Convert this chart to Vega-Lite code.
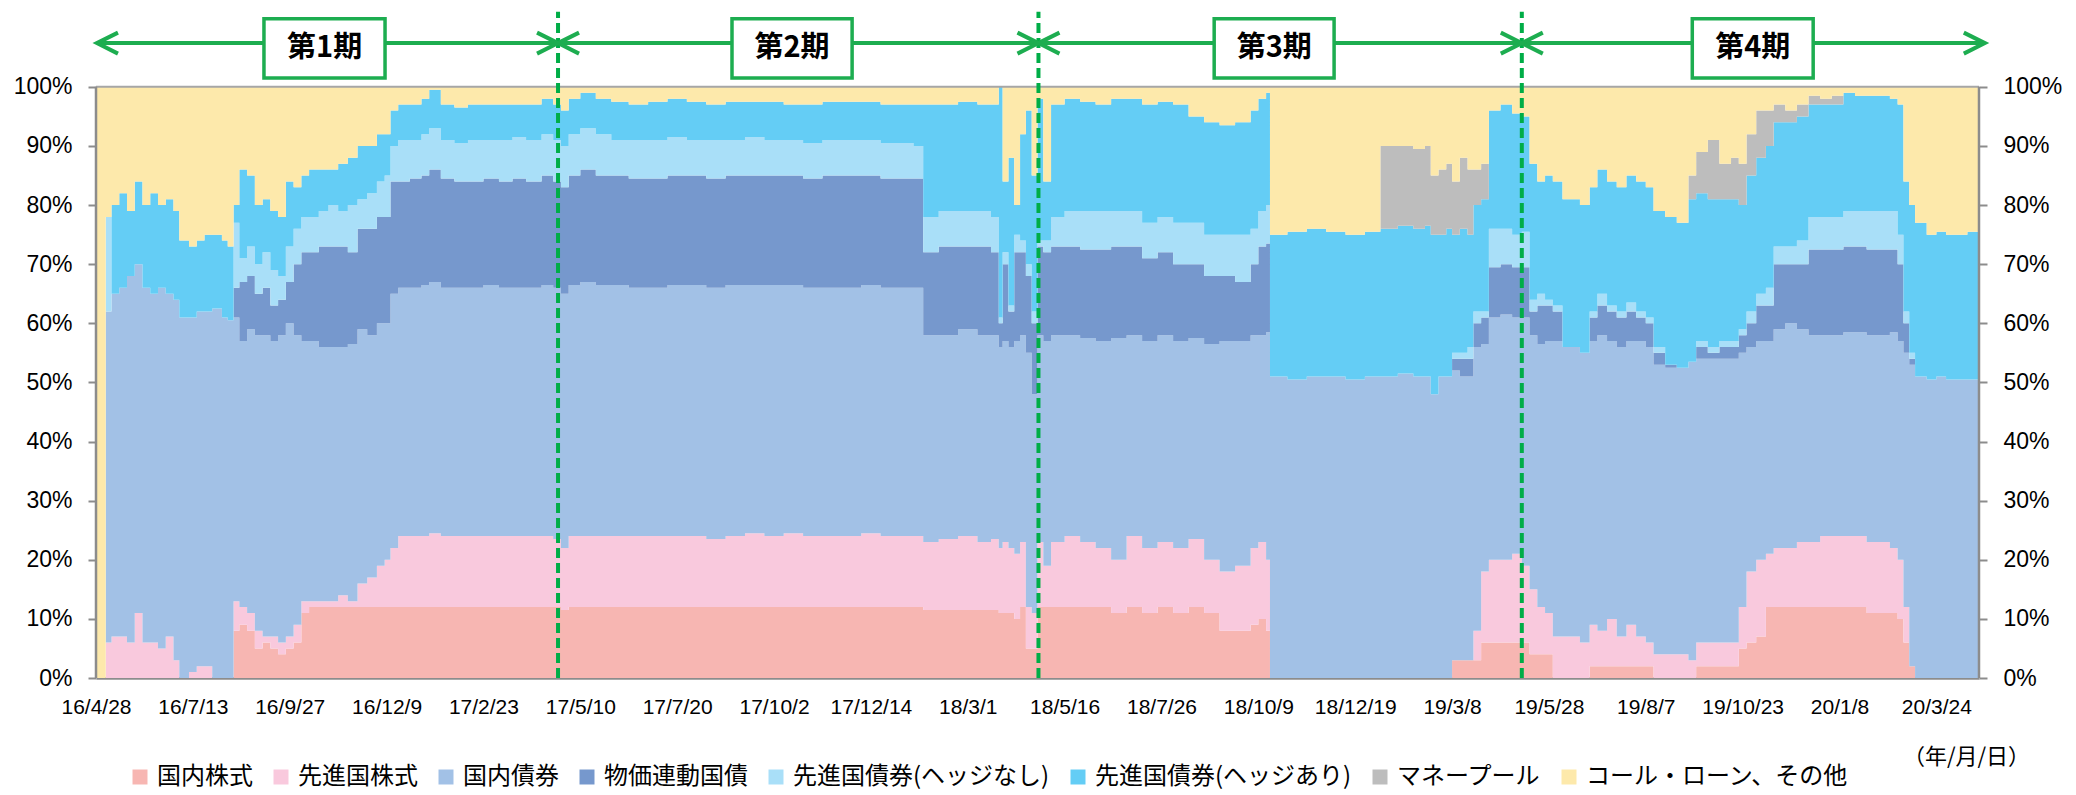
{
"$schema": "https://vega.github.io/schema/vega-lite/v6.json",
"width": 1883, "height": 668,
"autosize": "none",
"padding": {"left": 96, "top": 10, "right": 97, "bottom": 117},
"background": "white",
"config": {"view": {"stroke": null}},
"datasets": {
"names": [
{"k":"a","name":"国内株式","o":1},
{"k":"b","name":"先進国株式","o":2},
{"k":"c","name":"国内債券","o":3},
{"k":"e","name":"物価連動国債","o":4},
{"k":"f","name":"先進国債券(ヘッジなし)","o":5},
{"k":"g","name":"先進国債券(ヘッジあり)","o":6},
{"k":"m","name":"マネープール","o":7},
{"k":"y","name":"コール・ローン、その他","o":8}
],
"periods": [
{"p":"第1期","l":0.5,"r":238.5,"bl":86.7,"br":149.2,"bc":118},
{"p":"第2期","l":238.5,"r":486.5,"bl":328.3,"br":390.3,"bc":359.3},
{"p":"第3期","l":486.5,"r":736,"bl":577.2,"br":639.1,"bc":608.2},
{"p":"第4期","l":736,"r":975,"bl":824,"br":886.4,"bc":855.2}
],
"bounds": [{"b":238.5},{"b":486.5},{"b":736}],
"edges": [{"x":0},{"x":972}],
"alloc": [
{"d":0,"a":0,"b":0,"c":0,"e":0,"f":0,"g":0,"m":0,"y":100},
{"d":5,"a":0,"b":6,"c":56,"e":0,"f":16,"g":0,"m":0,"y":22},
{"d":8,"a":0,"b":7,"c":58,"e":0,"f":0,"g":15,"m":0,"y":20},
{"d":12,"a":0,"b":7,"c":59,"e":0,"f":0,"g":16,"m":0,"y":18},
{"d":16,"a":0,"b":6,"c":62,"e":0,"f":0,"g":11,"m":0,"y":21},
{"d":20,"a":0,"b":11,"c":59,"e":0,"f":0,"g":14,"m":0,"y":16},
{"d":24,"a":0,"b":6,"c":60,"e":0,"f":0,"g":14,"m":0,"y":20},
{"d":28,"a":0,"b":6,"c":59,"e":0,"f":0,"g":17,"m":0,"y":18},
{"d":32,"a":0,"b":5,"c":61,"e":0,"f":0,"g":14,"m":0,"y":20},
{"d":36,"a":0,"b":7,"c":58,"e":0,"f":0,"g":16,"m":0,"y":19},
{"d":40,"a":0,"b":3,"c":61,"e":0,"f":0,"g":15,"m":0,"y":21},
{"d":43,"a":0,"b":0,"c":61,"e":0,"f":0,"g":13,"m":0,"y":26},
{"d":48,"a":0,"b":1,"c":60,"e":0,"f":0,"g":12,"m":0,"y":27},
{"d":52,"a":0,"b":2,"c":60,"e":0,"f":0,"g":12,"m":0,"y":26},
{"d":56,"a":0,"b":2,"c":60,"e":0,"f":0,"g":13,"m":0,"y":25},
{"d":60,"a":0,"b":0,"c":62.5,"e":0,"f":0,"g":12.5,"m":0,"y":25},
{"d":65,"a":0,"b":0,"c":61,"e":0,"f":0,"g":13,"m":0,"y":26},
{"d":68,"a":0,"b":0,"c":60.5,"e":0,"f":0,"g":12.5,"m":0,"y":27},
{"d":71,"a":8,"b":5,"c":48,"e":5,"f":11,"g":3,"m":0,"y":20},
{"d":74,"a":9,"b":3,"c":45,"e":10,"f":4,"g":15,"m":0,"y":14},
{"d":78,"a":8,"b":3,"c":48,"e":9,"f":5,"g":12,"m":0,"y":15},
{"d":82,"a":5,"b":3,"c":50,"e":7,"f":5,"g":10,"m":0,"y":20},
{"d":86,"a":6,"b":1,"c":51,"e":8,"f":6,"g":9,"m":0,"y":19},
{"d":90,"a":5,"b":2,"c":50,"e":6,"f":6,"g":10,"m":0,"y":21},
{"d":94,"a":4,"b":2,"c":52,"e":6,"f":4,"g":10,"m":0,"y":22},
{"d":98,"a":5,"b":2,"c":53,"e":7,"f":6,"g":11,"m":0,"y":16},
{"d":102,"a":6,"b":3,"c":49,"e":12,"f":6,"g":7,"m":0,"y":17},
{"d":106,"a":11,"b":2,"c":44,"e":15,"f":6,"g":7,"m":0,"y":15},
{"d":110,"a":12,"b":1,"c":44,"e":15,"f":6,"g":8,"m":0,"y":14},
{"d":115,"a":12,"b":1,"c":43,"e":17,"f":6,"g":7,"m":0,"y":14},
{"d":120,"a":12,"b":1,"c":43,"e":17,"f":7,"g":6,"m":0,"y":14},
{"d":125,"a":12,"b":2,"c":42,"e":17,"f":6,"g":8,"m":0,"y":13},
{"d":130,"a":12,"b":1,"c":43.5,"e":15.5,"f":8,"g":8,"m":0,"y":12},
{"d":135,"a":12,"b":4,"c":43,"e":17,"f":5,"g":9,"m":0,"y":10},
{"d":140,"a":12,"b":5,"c":41,"e":18,"f":6,"g":8,"m":0,"y":10},
{"d":145,"a":12,"b":7,"c":41,"e":18,"f":6,"g":8,"m":0,"y":8},
{"d":149,"a":12,"b":8,"c":40,"e":18,"f":7,"g":7,"m":0,"y":8},
{"d":152,"a":12,"b":10,"c":43,"e":19,"f":6,"g":6,"m":0,"y":4},
{"d":156,"a":12,"b":12,"c":42,"e":18,"f":7,"g":6,"m":0,"y":3},
{"d":162,"a":12,"b":12,"c":42,"e":18.5,"f":6.5,"g":6,"m":0,"y":3},
{"d":168,"a":12,"b":12,"c":42.5,"e":18.5,"f":7,"g":6,"m":0,"y":2},
{"d":172,"a":12,"b":12.5,"c":42.5,"e":19,"f":7,"g":6.5,"m":0,"y":0.5},
{"d":178,"a":12,"b":12,"c":42,"e":18.5,"f":6.5,"g":6,"m":0,"y":3},
{"d":185,"a":12,"b":12,"c":42,"e":18,"f":6.5,"g":6,"m":0,"y":3.5},
{"d":192,"a":12,"b":12,"c":42,"e":18,"f":7,"g":6,"m":0,"y":3},
{"d":200,"a":12,"b":12,"c":42.5,"e":18,"f":6.5,"g":6,"m":0,"y":3},
{"d":208,"a":12,"b":12,"c":42,"e":18,"f":7,"g":6,"m":0,"y":3},
{"d":215,"a":12,"b":12,"c":42,"e":18.5,"f":7,"g":5.5,"m":0,"y":3},
{"d":222,"a":12,"b":12,"c":42,"e":18,"f":7,"g":6,"m":0,"y":3},
{"d":230,"a":12,"b":12,"c":42.5,"e":18.5,"f":7,"g":6,"m":0,"y":2},
{"d":236,"a":12,"b":11.5,"c":42.5,"e":18,"f":7,"g":6,"m":0,"y":3},
{"d":240,"a":11.5,"b":10.5,"c":43,"e":18,"f":7,"g":6,"m":0,"y":4},
{"d":244,"a":12,"b":12,"c":42.5,"e":18.5,"f":7,"g":6,"m":0,"y":2},
{"d":250,"a":12,"b":12,"c":43,"e":19,"f":7,"g":6,"m":0,"y":1},
{"d":258,"a":12,"b":12,"c":42.5,"e":18.5,"f":7,"g":6,"m":0,"y":2},
{"d":266,"a":12,"b":12,"c":42.5,"e":18.5,"f":6,"g":6.5,"m":0,"y":2.5},
{"d":275,"a":12,"b":12,"c":42,"e":18.5,"f":6.5,"g":6,"m":0,"y":3},
{"d":285,"a":12,"b":12,"c":42,"e":18.5,"f":6.5,"g":6.5,"m":0,"y":2.5},
{"d":295,"a":12,"b":12,"c":42.5,"e":18.5,"f":6.5,"g":6.5,"m":0,"y":2},
{"d":305,"a":12,"b":12,"c":42.5,"e":18.5,"f":6,"g":6.5,"m":0,"y":2.5},
{"d":315,"a":12,"b":11.5,"c":42.5,"e":18.5,"f":6.5,"g":6,"m":0,"y":3},
{"d":325,"a":12,"b":12,"c":42.5,"e":18.5,"f":6,"g":6.5,"m":0,"y":2.5},
{"d":335,"a":12,"b":12.5,"c":42,"e":18.5,"f":6.5,"g":6,"m":0,"y":2.5},
{"d":345,"a":12,"b":12,"c":42.5,"e":18.5,"f":6,"g":6.5,"m":0,"y":2.5},
{"d":355,"a":12,"b":12.5,"c":42,"e":18.5,"f":6,"g":6,"m":0,"y":3},
{"d":365,"a":12,"b":12,"c":42,"e":18.5,"f":6,"g":6.5,"m":0,"y":3},
{"d":375,"a":12,"b":12,"c":42,"e":19,"f":6,"g":6.5,"m":0,"y":2.5},
{"d":385,"a":12,"b":12,"c":42,"e":19,"f":6,"g":6.5,"m":0,"y":2.5},
{"d":395,"a":12,"b":12.5,"c":42,"e":18.5,"f":6,"g":6.5,"m":0,"y":2.5},
{"d":405,"a":12,"b":12,"c":42,"e":18.5,"f":6,"g":6.5,"m":0,"y":3},
{"d":415,"a":12,"b":12,"c":42,"e":18.5,"f":6,"g":6.5,"m":0,"y":3},
{"d":422,"a":12,"b":12,"c":42,"e":18.5,"f":5.5,"g":7,"m":0,"y":3},
{"d":427,"a":11.5,"b":11.5,"c":35,"e":14,"f":6,"g":19,"m":0,"y":3},
{"d":435,"a":11.5,"b":12,"c":34.5,"e":15,"f":6,"g":18,"m":0,"y":3},
{"d":445,"a":11.5,"b":12.5,"c":35,"e":14,"f":6,"g":18.5,"m":0,"y":2.5},
{"d":455,"a":11.5,"b":11.5,"c":35,"e":15,"f":6,"g":18,"m":0,"y":3},
{"d":462,"a":11.5,"b":12,"c":34.5,"e":14,"f":6,"g":19,"m":0,"y":3},
{"d":466,"a":11,"b":11,"c":34,"e":4,"f":1,"g":39,"m":0,"y":0},
{"d":468,"a":11,"b":12,"c":34,"e":13,"f":2,"g":12,"m":0,"y":16},
{"d":471,"a":11,"b":11,"c":34,"e":6,"f":1,"g":25,"m":0,"y":12},
{"d":474,"a":10,"b":11,"c":36,"e":15,"f":3,"g":5,"m":0,"y":20},
{"d":477,"a":12,"b":11,"c":35,"e":14,"f":2,"g":18,"m":0,"y":8},
{"d":480,"a":5,"b":7,"c":43,"e":13,"f":2,"g":26,"m":0,"y":4},
{"d":483,"a":5,"b":6,"c":37,"e":12,"f":2,"g":23,"m":0,"y":15},
{"d":486,"a":12,"b":11,"c":35,"e":15,"f":1,"g":24,"m":0,"y":2},
{"d":489,"a":12,"b":7,"c":38,"e":15,"f":2,"g":10,"m":0,"y":16},
{"d":493,"a":12,"b":11,"c":35,"e":15,"f":5,"g":19,"m":0,"y":3},
{"d":500,"a":12,"b":12,"c":34,"e":15,"f":6,"g":19,"m":0,"y":2},
{"d":508,"a":12,"b":11,"c":34.5,"e":15,"f":6.5,"g":18.5,"m":0,"y":2.5},
{"d":516,"a":12,"b":10,"c":35,"e":15.5,"f":6.5,"g":18,"m":0,"y":3},
{"d":524,"a":11,"b":9,"c":37.5,"e":15.5,"f":6,"g":19,"m":0,"y":2},
{"d":532,"a":12,"b":12,"c":34,"e":15,"f":6,"g":19,"m":0,"y":2},
{"d":540,"a":11,"b":11,"c":35,"e":14,"f":6,"g":20,"m":0,"y":3},
{"d":548,"a":12,"b":11,"c":35,"e":14,"f":6,"g":19.5,"m":0,"y":2.5},
{"d":556,"a":11,"b":11,"c":35,"e":13,"f":7,"g":20,"m":0,"y":3},
{"d":564,"a":12,"b":11.5,"c":34,"e":12.5,"f":7,"g":18,"m":0,"y":5},
{"d":572,"a":11,"b":9,"c":36.5,"e":11.5,"f":7,"g":19,"m":0,"y":6},
{"d":580,"a":8,"b":10,"c":39,"e":11,"f":7,"g":18.5,"m":0,"y":6.5},
{"d":588,"a":8,"b":11,"c":38,"e":10,"f":8,"g":19,"m":0,"y":6},
{"d":596,"a":9,"b":13,"c":36,"e":12,"f":6,"g":20,"m":0,"y":4},
{"d":600,"a":10,"b":13,"c":35,"e":15,"f":6,"g":19,"m":0,"y":2},
{"d":604,"a":8,"b":12,"c":38.5,"e":15,"f":6.5,"g":19,"m":0,"y":1},
{"d":606,"a":0,"b":0,"c":51,"e":0,"f":0,"g":24,"m":0,"y":25},
{"d":615,"a":0,"b":0,"c":50.5,"e":0,"f":0,"g":25,"m":0,"y":24.5},
{"d":625,"a":0,"b":0,"c":51,"e":0,"f":0,"g":25,"m":0,"y":24},
{"d":635,"a":0,"b":0,"c":51,"e":0,"f":0,"g":24.5,"m":0,"y":24.5},
{"d":645,"a":0,"b":0,"c":50.5,"e":0,"f":0,"g":24.5,"m":0,"y":25},
{"d":655,"a":0,"b":0,"c":51,"e":0,"f":0,"g":24.5,"m":0,"y":24.5},
{"d":663,"a":0,"b":0,"c":51,"e":0,"f":0,"g":25,"m":14,"y":10},
{"d":672,"a":0,"b":0,"c":51.5,"e":0,"f":0,"g":25,"m":13.5,"y":10},
{"d":680,"a":0,"b":0,"c":51,"e":0,"f":0,"g":25,"m":13.5,"y":10.5},
{"d":686,"a":0,"b":0,"c":51,"e":0,"f":0,"g":25.5,"m":13.5,"y":10},
{"d":689,"a":0,"b":0,"c":48,"e":0,"f":0,"g":27,"m":10,"y":15},
{"d":693,"a":0,"b":0,"c":51,"e":0,"f":0,"g":24,"m":11,"y":14},
{"d":697,"a":0,"b":0,"c":51,"e":0,"f":0,"g":25,"m":11,"y":13},
{"d":700,"a":3,"b":0,"c":49,"e":2,"f":1,"g":20,"m":9,"y":16},
{"d":704,"a":3,"b":0,"c":48,"e":3,"f":1,"g":21,"m":12,"y":12},
{"d":708,"a":3,"b":0,"c":48,"e":3,"f":2,"g":19,"m":11,"y":14},
{"d":711,"a":3,"b":5,"c":48,"e":4,"f":2,"g":18,"m":6,"y":14},
{"d":715,"a":6,"b":12,"c":38.5,"e":4.5,"f":1,"g":19,"m":6,"y":13},
{"d":719,"a":6,"b":14,"c":41,"e":8.5,"f":6.5,"g":20,"m":0,"y":4},
{"d":725,"a":6,"b":14,"c":41.5,"e":8.5,"f":6,"g":21,"m":0,"y":3},
{"d":731,"a":6,"b":15,"c":40,"e":8.5,"f":5.5,"g":20.5,"m":0,"y":4.5},
{"d":736,"a":6,"b":13,"c":42,"e":8.5,"f":6,"g":19.5,"m":0,"y":5},
{"d":740,"a":4,"b":11,"c":43,"e":4,"f":2,"g":23,"m":0,"y":13},
{"d":744,"a":4,"b":8,"c":44.5,"e":6.5,"f":2,"g":19,"m":0,"y":16},
{"d":748,"a":4,"b":7,"c":46,"e":6,"f":1,"g":21,"m":0,"y":15},
{"d":752,"a":0,"b":7,"c":50,"e":5,"f":1,"g":21,"m":0,"y":16},
{"d":757,"a":0,"b":7,"c":49,"e":0,"f":0,"g":25,"m":0,"y":19},
{"d":762,"a":0,"b":7,"c":49,"e":0,"f":0,"g":25,"m":0,"y":19},
{"d":766,"a":0,"b":6,"c":49,"e":0,"f":0,"g":25,"m":0,"y":20},
{"d":771,"a":2,"b":7,"c":48,"e":4,"f":1,"g":21,"m":0,"y":17},
{"d":775,"a":2,"b":6,"c":50,"e":5,"f":2,"g":21,"m":0,"y":14},
{"d":780,"a":2,"b":8,"c":47,"e":5,"f":1,"g":21,"m":0,"y":16},
{"d":785,"a":2,"b":5,"c":49,"e":5,"f":1,"g":21,"m":0,"y":17},
{"d":790,"a":2,"b":7,"c":48,"e":5,"f":1.5,"g":21.5,"m":0,"y":15},
{"d":795,"a":2,"b":5,"c":50,"e":4,"f":1,"g":22,"m":0,"y":16},
{"d":800,"a":2,"b":4,"c":50,"e":4,"f":1,"g":22,"m":0,"y":17},
{"d":804,"a":0,"b":4,"c":49,"e":2,"f":1,"g":23,"m":0,"y":21},
{"d":810,"a":0,"b":4,"c":48.5,"e":0.5,"f":0,"g":25,"m":0,"y":22},
{"d":816,"a":0,"b":4,"c":48.5,"e":0,"f":0,"g":24.5,"m":0,"y":23},
{"d":822,"a":0,"b":3,"c":50.5,"e":0,"f":0,"g":27.5,"m":4,"y":15},
{"d":826,"a":2,"b":4,"c":48,"e":2,"f":1,"g":25,"m":7,"y":11},
{"d":832,"a":2,"b":4,"c":48,"e":1,"f":1,"g":25,"m":10,"y":9},
{"d":838,"a":2,"b":4,"c":48,"e":2,"f":1,"g":24,"m":6,"y":13},
{"d":844,"a":2,"b":4,"c":48,"e":2,"f":1,"g":24,"m":7,"y":12},
{"d":848,"a":5,"b":7,"c":43,"e":3,"f":1,"g":21,"m":7,"y":13},
{"d":852,"a":6,"b":12,"c":38,"e":4,"f":2,"g":23,"m":7,"y":8},
{"d":857,"a":7,"b":13,"c":37,"e":6,"f":2,"g":23,"m":8,"y":4},
{"d":862,"a":12,"b":9,"c":36,"e":6,"f":3,"g":24,"m":6,"y":4},
{"d":866,"a":12,"b":10,"c":37,"e":11,"f":3,"g":21,"m":3,"y":3},
{"d":872,"a":12,"b":10,"c":38,"e":10,"f":3,"g":21,"m":2,"y":4},
{"d":878,"a":12,"b":11,"c":36,"e":11,"f":4,"g":21,"m":2,"y":3},
{"d":884,"a":12,"b":11,"c":35,"e":14.5,"f":5.5,"g":19,"m":1.5,"y":1.5},
{"d":890,"a":12,"b":12,"c":34,"e":14.5,"f":5.5,"g":19,"m":1,"y":2},
{"d":896,"a":12,"b":12,"c":34,"e":14.5,"f":5.5,"g":19,"m":1.5,"y":1.5},
{"d":902,"a":12,"b":12,"c":34.5,"e":14.5,"f":6,"g":20,"m":0,"y":1},
{"d":908,"a":12,"b":12,"c":34.5,"e":14.5,"f":6,"g":19.5,"m":0,"y":1.5},
{"d":914,"a":11,"b":12,"c":35,"e":14.5,"f":6.5,"g":19.5,"m":0,"y":1.5},
{"d":920,"a":11,"b":12,"c":35,"e":14.5,"f":6.5,"g":19.5,"m":0,"y":1.5},
{"d":926,"a":11,"b":11,"c":36.5,"e":14,"f":6.5,"g":19,"m":0,"y":2},
{"d":930,"a":10,"b":10,"c":37,"e":13,"f":5,"g":22,"m":0,"y":3},
{"d":933,"a":6,"b":6,"c":43,"e":5,"f":2,"g":22,"m":0,"y":16},
{"d":936,"a":2,"b":0,"c":51,"e":1,"f":1,"g":25,"m":0,"y":20},
{"d":939,"a":0,"b":0,"c":51,"e":0,"f":0,"g":26,"m":0,"y":23},
{"d":945,"a":0,"b":0,"c":50.5,"e":0,"f":0,"g":24.5,"m":0,"y":25},
{"d":950,"a":0,"b":0,"c":51,"e":0,"f":0,"g":24.5,"m":0,"y":24.5},
{"d":955,"a":0,"b":0,"c":50.5,"e":0,"f":0,"g":24.5,"m":0,"y":25},
{"d":960,"a":0,"b":0,"c":50.5,"e":0,"f":0,"g":24.5,"m":0,"y":25},
{"d":966,"a":0,"b":0,"c":50.5,"e":0,"f":0,"g":25,"m":0,"y":24.5},
{"d":972,"a":0,"b":0,"c":51,"e":0,"f":0,"g":24.5,"m":0,"y":24.5}
]
},
"resolve": {"axis": {"x": "independent", "y": "independent"}},
"layer": [
{
"data": {"name": "alloc"},
"transform": [
{"fold": ["a","b","c","e","f","g","m","y"], "as": ["k","v"]},
{"lookup": "k", "from": {"data": {"name": "names"}, "key": "k", "fields": ["name","o"]}}
],
"mark": {"type": "area", "interpolate": "step-after"},
"encoding": {
"x": {"field": "d", "type": "quantitative", "scale": {"domain": [0, 972], "nice": false, "zero": false},
"axis": {"values": [0,50,100,150,200,250,300,350,400,450,500,550,600,650,700,750,800,850,900,950],
"labelExpr": "['16/4/28','16/7/13','16/9/27','16/12/9','17/2/23','17/5/10','17/7/20','17/10/2','17/12/14','18/3/1','18/5/16','18/7/26','18/10/9','18/12/19','19/3/8','19/5/28','19/8/7','19/10/23','20/1/8','20/3/24'][round(datum.value/50)]",
"grid": false, "ticks": false, "domain": true, "domainColor": "#8C8C8C", "domainWidth": 2.5,
"labelFont": "Liberation Sans", "labelFontSize": 21, "labelColor": "#000000", "labelPadding": 18,
"labelOverlap": false, "labelFlush": false,
"title": "（年/月/日）", "titleFont": "Noto Sans CJK JP", "titleFontSize": 22, "titleFontWeight": "normal",
"titleColor": "#000000", "titleX": 1870, "titleY": 78, "titleAlign": "center", "titleBaseline": "middle"}},
"y": {"field": "v", "type": "quantitative", "stack": "normalize", "scale": {"domain": [0, 1.13], "nice": false, "zero": true},
"axis": {"orient": "left", "values": [0,0.1,0.2,0.3,0.4,0.5,0.6,0.7,0.8,0.9,1], "format": ".0%",
"grid": false, "domain": false, "ticks": true, "tickSize": 8, "tickColor": "#8C8C8C", "tickWidth": 2,
"labelFont": "Liberation Sans", "labelFontSize": 23, "labelColor": "#000000", "labelPadding": 16, "title": null}},
"color": {"field": "name", "type": "nominal",
"scale": {"domain": ["国内株式","先進国株式","国内債券","物価連動国債","先進国債券(ヘッジなし)","先進国債券(ヘッジあり)","マネープール","コール・ローン、その他"],
"range": ["#F7B6B2","#F9C9DD","#A2C1E6","#7698CD","#A9DFF8","#64CDF5","#BDBDBD","#FDE9AB"]},
"legend": {"orient": "none", "legendX": 32, "legendY": 755, "direction": "horizontal", "title": null,
"symbolType": "square", "symbolSize": 225, "symbolStrokeWidth": 0, "symbolOpacity": 1,
"labelFont": "Noto Sans CJK JP", "labelFontSize": 24, "labelColor": "#000000", "labelOffset": 5,
"labelLimit": 600, "columnPadding": 16, "padding": 0}},
"order": {"field": "o", "type": "quantitative"}
}
},
{
"data": {"values": [{}]},
"mark": {"type": "rule", "stroke": "#A6A6A6", "strokeWidth": 2},
"encoding": {
"x": {"datum": 0, "type": "quantitative", "scale": {"domain": [0, 972], "nice": false, "zero": false}, "axis": null},
"x2": {"datum": 972},
"y": {"datum": 1, "type": "quantitative", "scale": {"domain": [0, 1.13], "nice": false, "zero": true},
"axis": {"orient": "right", "values": [0,0.1,0.2,0.3,0.4,0.5,0.6,0.7,0.8,0.9,1], "format": ".0%",
"grid": false, "domain": false, "ticks": true, "tickSize": 8, "tickColor": "#8C8C8C", "tickWidth": 2,
"labelFont": "Liberation Sans", "labelFontSize": 23, "labelColor": "#000000", "labelPadding": 16, "title": null}}
}
},
{
"data": {"name": "edges"},
"mark": {"type": "rule", "stroke": "#8C8C8C", "strokeWidth": 2.5},
"encoding": {
"x": {"field": "x", "type": "quantitative", "scale": {"domain": [0, 972], "nice": false, "zero": false}, "axis": null},
"y": {"datum": 0, "type": "quantitative", "scale": {"domain": [0, 1.13], "nice": false, "zero": true}, "axis": null},
"y2": {"datum": 1}
}
},
{
"data": {"name": "bounds"},
"mark": {"type": "rule", "stroke": "#00AD47", "strokeWidth": 4, "strokeDash": [10, 5]},
"encoding": {
"x": {"field": "b", "type": "quantitative", "scale": {"domain": [0, 972], "nice": false, "zero": false}, "axis": null},
"y": {"datum": 0, "type": "quantitative", "scale": {"domain": [0, 1.13], "nice": false, "zero": true}, "axis": null},
"y2": {"datum": 1.127}
}
},
{
"data": {"name": "periods"},
"mark": {"type": "rule", "stroke": "#1DAD50", "strokeWidth": 4},
"encoding": {
"x": {"field": "l", "type": "quantitative", "scale": {"domain": [0, 972], "nice": false, "zero": false}, "axis": null},
"x2": {"field": "r"},
"y": {"datum": 1.074, "type": "quantitative", "scale": {"domain": [0, 1.13], "nice": false, "zero": true}, "axis": null}
}
},
{
"data": {"name": "periods"},
"mark": {"type": "point", "shape": "M2,-1L0,0L2,1", "size": 441, "filled": false, "stroke": "#1DAD50", "strokeWidth": 4, "opacity": 1},
"encoding": {
"x": {"field": "l", "type": "quantitative", "scale": {"domain": [0, 972], "nice": false, "zero": false}, "axis": null},
"y": {"datum": 1.074, "type": "quantitative", "scale": {"domain": [0, 1.13], "nice": false, "zero": true}, "axis": null}
}
},
{
"data": {"name": "periods"},
"mark": {"type": "point", "shape": "M-2,-1L0,0L-2,1", "size": 441, "filled": false, "stroke": "#1DAD50", "strokeWidth": 4, "opacity": 1},
"encoding": {
"x": {"field": "r", "type": "quantitative", "scale": {"domain": [0, 972], "nice": false, "zero": false}, "axis": null},
"y": {"datum": 1.074, "type": "quantitative", "scale": {"domain": [0, 1.13], "nice": false, "zero": true}, "axis": null}
}
},
{
"data": {"name": "periods"},
"mark": {"type": "rect", "fill": "#FFFFFF", "stroke": "#1DAD50", "strokeWidth": 3.5},
"encoding": {
"x": {"field": "bl", "type": "quantitative", "scale": {"domain": [0, 972], "nice": false, "zero": false}, "axis": null},
"x2": {"field": "br"},
"y": {"datum": 1.015, "type": "quantitative", "scale": {"domain": [0, 1.13], "nice": false, "zero": true}, "axis": null},
"y2": {"datum": 1.115}
}
},
{
"data": {"name": "periods"},
"mark": {"type": "text", "font": "Noto Sans CJK JP", "fontSize": 29, "fontWeight": "bold", "align": "center", "baseline": "middle", "color": "#000000"},
"encoding": {
"x": {"field": "bc", "type": "quantitative", "scale": {"domain": [0, 972], "nice": false, "zero": false}, "axis": null},
"y": {"datum": 1.065, "type": "quantitative", "scale": {"domain": [0, 1.13], "nice": false, "zero": true}, "axis": null},
"text": {"field": "p"}
}
}
]
}
